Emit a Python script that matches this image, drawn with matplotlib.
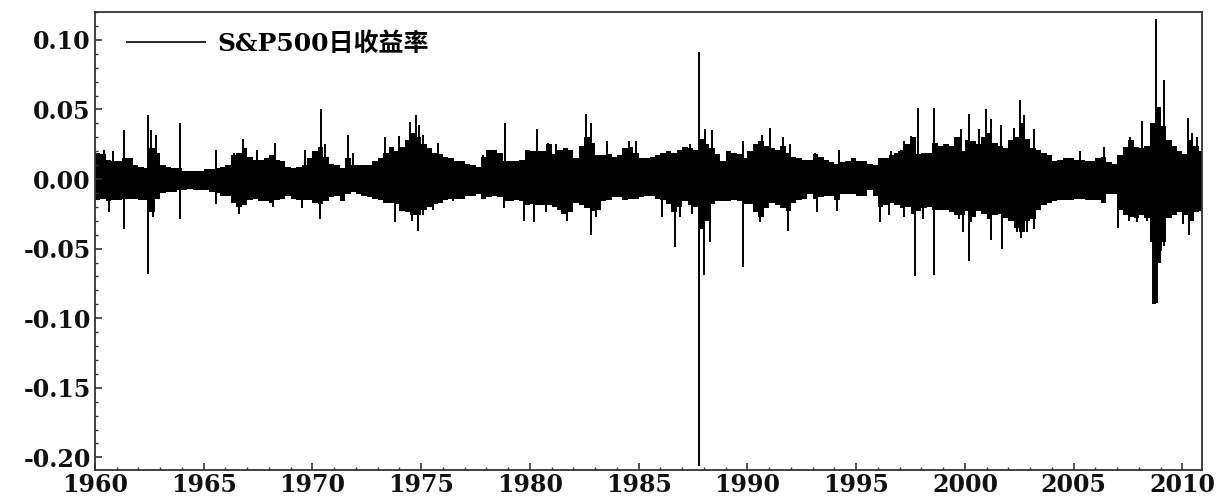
import numpy as np
import matplotlib.pyplot as plt
from matplotlib.ticker import MultipleLocator, FormatStrFormatter

plt.rcParams['font.family'] = ['DejaVu Serif', 'Noto Sans CJK SC']

# outer body of the daily-return band, quarter-year bins from 1960.0 (units of 0.001)
band_edges = np.arange(1960.0, 2011.01, 0.25)
band_hi = [19, 18, 14, 13, 13, 15, 15, 10, 9, 8, 22, 19, 10, 9, 8, 8, 6, 6, 6, 6,
           7, 7, 8, 9, 10, 17, 19, 22, 16, 14, 14, 15, 17, 14, 13, 9, 8, 9, 10, 15,
           20, 23, 16, 11, 10, 8, 15, 10, 10, 10, 10, 13, 15, 19, 23, 20, 23, 28, 33, 30,
           25, 22, 19, 18, 16, 15, 13, 13, 11, 10, 9, 16, 21, 21, 19, 13, 13, 13, 14, 21,
           20, 20, 20, 25, 18, 21, 22, 21, 15, 24, 30, 26, 17, 17, 18, 16, 17, 22, 23, 19,
           15, 15, 16, 17, 19, 20, 19, 21, 23, 22, 21, 29, 25, 22, 18, 13, 20, 19, 18, 15,
           20, 25, 27, 24, 22, 21, 24, 19, 16, 15, 14, 14, 18, 16, 14, 12, 11, 12, 13, 15,
           13, 13, 11, 10, 15, 15, 17, 19, 21, 25, 30, 18, 19, 19, 26, 24, 25, 24, 30, 20,
           28, 27, 25, 30, 33, 26, 24, 22, 28, 30, 40, 29, 22, 21, 19, 17, 13, 14, 15, 15,
           14, 14, 13, 13, 15, 16, 12, 11, 17, 23, 28, 23, 22, 24, 40, 52, 38, 28, 24, 20,
           18, 28, 24, 20]
band_lo = [-15, -14, -16, -15, -15, -14, -14, -14, -15, -15, -24, -14, -10, -9, -9, -8, -8, -7, -8, -8,
           -8, -9, -10, -12, -12, -17, -20, -19, -15, -14, -16, -16, -17, -15, -14, -12, -14, -15, -15, -15,
           -17, -18, -16, -13, -12, -16, -11, -9, -11, -12, -13, -14, -15, -17, -17, -18, -23, -24, -26, -26,
           -22, -20, -18, -17, -15, -14, -14, -14, -12, -12, -11, -14, -13, -12, -13, -16, -16, -15, -16, -19,
           -18, -19, -19, -19, -20, -22, -25, -24, -17, -19, -21, -23, -22, -16, -15, -13, -13, -15, -14, -14,
           -13, -12, -12, -14, -15, -18, -24, -20, -16, -19, -20, -36, -30, -18, -16, -16, -16, -15, -16, -18,
           -18, -24, -27, -21, -17, -19, -21, -23, -17, -15, -14, -11, -14, -13, -12, -12, -15, -11, -11, -11,
           -12, -12, -8, -12, -20, -19, -17, -19, -21, -20, -25, -23, -21, -20, -22, -22, -22, -24, -26, -26,
           -23, -27, -23, -25, -29, -26, -25, -28, -30, -35, -38, -30, -29, -22, -19, -17, -16, -15, -15, -15,
           -14, -14, -15, -15, -15, -17, -11, -11, -22, -26, -27, -28, -26, -28, -45, -60, -45, -28, -26, -24,
           -26, -30, -24, -23]

# single large days (units of 0.001)
up_year = [1960.43, 1960.82, 1961.32, 1962.45, 1962.58, 1962.81, 1963.92, 1965.56, 1966.4, 1966.82,
           1967.43, 1968.29, 1969.66, 1970.40, 1970.58, 1971.62, 1971.88, 1973.34, 1974.0, 1974.49,
           1974.76, 1974.91, 1975.10, 1975.79, 1977.85, 1978.84, 1980.30, 1980.85, 1981.19, 1982.57,
           1982.80, 1983.56, 1984.56, 1984.86, 1987.06, 1987.36, 1987.79, 1988.05, 1988.39, 1989.78,
           1990.66, 1991.04, 1991.65, 1991.96, 1993.11, 1994.22, 1996.59, 1996.98, 1997.21, 1997.51,
           1997.82, 1998.58, 1999.58, 1999.81, 2000.19, 2000.65, 2000.96, 2001.19, 2001.65, 2002.26,
           2002.54, 2002.69, 2003.15, 2005.30, 2006.37, 2007.59, 2008.13, 2008.77, 2009.16, 2010.24,
           2010.43, 2010.66]
up_val = [21, 20, 35, 46, 35, 32, 40, 21, 19, 29,
          21, 26, 21, 50, 25, 32, 19, 30, 31, 41,
          46, 39, 32, 26, 17, 40, 36, 26, 25, 47,
          40, 27, 27, 27, 23, 25, 91, 36, 35, 27,
          32, 37, 30, 25, 19, 21, 20, 20, 27, 31,
          51, 51, 29, 36, 47, 36, 50, 43, 39, 37,
          57, 46, 36, 20, 23, 30, 42, 115, 71, 44,
          33, 30]
down_year = [1960.66, 1961.32, 1962.45, 1962.65, 1963.92, 1965.56, 1966.63, 1968.17, 1969.51, 1970.35,
             1973.80, 1974.56, 1974.87, 1975.10, 1975.56, 1976.48, 1978.81, 1979.73, 1980.19, 1980.73,
             1981.49, 1981.68, 1982.80, 1983.03, 1986.06, 1986.68, 1986.90, 1987.44, 1987.79, 1988.01,
             1988.28, 1989.78, 1990.58, 1991.88, 1993.18, 1994.11, 1996.10, 1996.49, 1997.21, 1997.71,
             1998.05, 1998.58, 1999.73, 1999.89, 2000.19, 2000.27, 2001.19, 2001.69, 2002.41, 2002.57,
             2002.85, 2003.15, 2007.03, 2007.52, 2007.90, 2008.36, 2008.64, 2008.74, 2008.85, 2009.0,
             2009.16, 2010.04, 2010.32, 2010.50]
down_val = [-24, -36, -68, -27, -29, -18, -25, -20, -21, -29,
            -31, -30, -37, -26, -22, -16, -21, -30, -31, -24,
            -25, -30, -40, -27, -27, -49, -27, -25, -206, -69,
            -45, -63, -31, -37, -24, -23, -31, -26, -27, -70,
            -29, -69, -29, -38, -59, -31, -44, -50, -38, -42,
            -38, -36, -35, -30, -31, -30, -90, -90, -89, -52,
            -48, -32, -40, -30]

fig = plt.figure(figsize=(12.21, 5.01), dpi=100)
ax = fig.add_axes([0.0778, 0.062, 0.9067, 0.914])

ax.stairs(np.array(band_hi) / 1000, band_edges, baseline=np.array(band_lo) / 1000,
          fill=True, color='black', lw=0)
ax.vlines(up_year, 0, np.array(up_val) / 1000, color='black', lw=1.4,
          label='S&P500日收益率')
ax.vlines(down_year, 0, np.array(down_val) / 1000, color='black', lw=1.4)

ax.set_xlim(1960, 2010.9)
ax.set_ylim(-0.209, 0.12)
ax.xaxis.set_major_locator(MultipleLocator(5))
ax.xaxis.set_minor_locator(MultipleLocator(1))
ax.yaxis.set_major_locator(MultipleLocator(0.05))
ax.yaxis.set_minor_locator(MultipleLocator(0.01))
ax.yaxis.set_major_formatter(FormatStrFormatter('%.2f'))
ax.tick_params(which='both', direction='in', top=False, right=False,
               labelsize=17, colors='#333333', labelcolor='#111111')
ax.tick_params(which='major', length=5, width=1.2, pad=3)
ax.tick_params(axis='x', which='major', pad=2)
ax.tick_params(which='minor', length=2.5, width=1.0)
for lab in ax.get_xticklabels() + ax.get_yticklabels():
    lab.set_fontweight('bold')
for s in ax.spines.values():
    s.set_color('#333333')
    s.set_linewidth(1.3)

leg = ax.legend(loc='upper left', bbox_to_anchor=(0.01, 1.0), frameon=False,
                handlelength=3.2, borderaxespad=0.4, handletextpad=0.45,
                prop={'weight': 'bold', 'size': 18})
leg.get_lines()[0].set_linewidth(1.2)

fig.savefig('out.png', dpi=100)
